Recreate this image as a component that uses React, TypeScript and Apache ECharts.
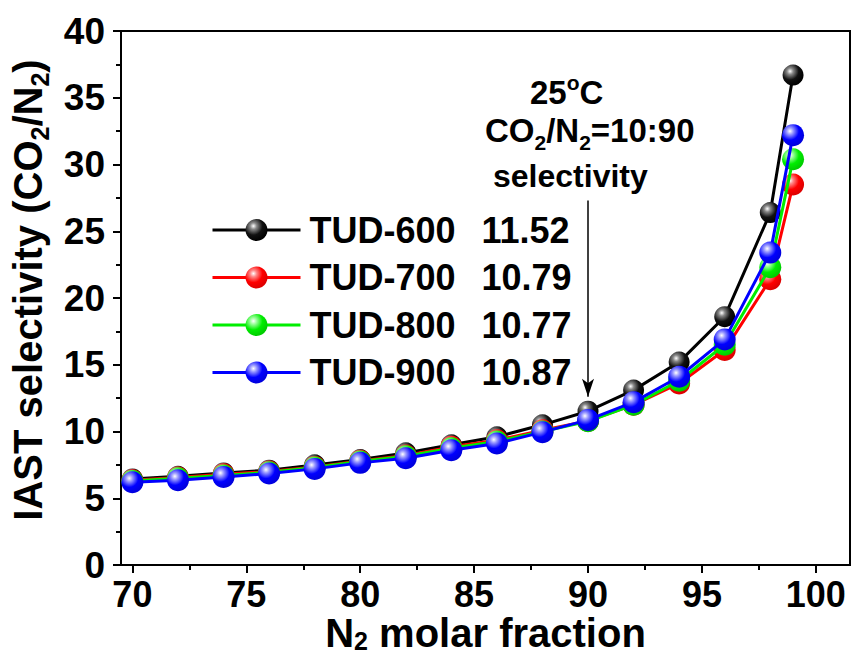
import React, { useEffect, useRef } from "react";
import * as echarts from "echarts";

const xValues = [70, 72, 74, 76, 78, 80, 82, 84, 86, 88, 90, 92, 94, 96, 98, 99];
const tud600 = [6.45, 6.65, 6.9, 7.1, 7.5, 7.9, 8.4, 9.0, 9.6, 10.5, 11.52, 13.1, 15.2, 18.6, 26.4, 36.7];
const tud700 = [6.35, 6.55, 6.8, 7.0, 7.35, 7.8, 8.2, 8.85, 9.35, 10.1, 10.79, 12.0, 13.6, 16.1, 21.4, 28.5];
const tud800 = [6.3, 6.5, 6.7, 6.95, 7.3, 7.75, 8.15, 8.75, 9.25, 10.0, 10.77, 12.0, 13.8, 16.5, 22.3, 30.4];
const tud900 = [6.2, 6.35, 6.6, 6.85, 7.2, 7.65, 8.0, 8.6, 9.1, 9.95, 10.87, 12.2, 14.1, 16.9, 23.4, 32.2];
const seriesNames = ["TUD-600", "TUD-700", "TUD-800", "TUD-900"];
const selectivity = ["11.52", "10.79", "10.77", "10.87"];
const xTickValues = [70, 75, 80, 85, 90, 95, 100];
const xMinorTickValues = [72.5, 77.5, 82.5, 87.5, 92.5, 97.5];

const FONT = "'Liberation Sans', Arial, sans-serif";

function ball(base: string, light: string, dark: string) {
  return new echarts.graphic.RadialGradient(0.36, 0.32, 0.68, [
    { offset: 0, color: "#ffffff" },
    { offset: 0.22, color: light },
    { offset: 0.6, color: base },
    { offset: 1, color: dark },
  ]);
}

export default function App() {
  const ref = useRef<HTMLDivElement>(null);
  useEffect(() => {
    document.body.style.margin = "0";
    const chart = echarts.init(ref.current!, null, { renderer: "svg" });
    const colors = ["#000000", "#ff0000", "#00ee00", "#0000ff"];
    const balls = [
      ball("#111111", "#888888", "#000000"),
      ball("#ff0000", "#ff8888", "#dd0000"),
      ball("#00ee00", "#99ff99", "#00cc00"),
      ball("#0000ff", "#9999ff", "#0000dd"),
    ];
    const datas = [tud600, tud700, tud800, tud900];
    const series: any[] = datas.map((d, i) => ({
      name: seriesNames[i],
      type: "line",
      data: xValues.map((x, j) => [x, d[j]]),
      symbol: "circle",
      symbolSize: i === 0 ? 21 : 22,
      lineStyle: { color: colors[i], width: 3 },
      itemStyle: { color: balls[i], borderWidth: 0 },
      z: 2 + i,
    }));
    series[0].markLine = {
      silent: true,
      symbol: ["none", "arrow"],
      symbolSize: [9, 18],
      lineStyle: { color: "#000", width: 1.5, type: "solid" },
      label: { show: false },
      data: [[{ coord: [90, 27.3] }, { coord: [90, 12.6] }]],
    };
    const option: any = {
      animation: false,
      backgroundColor: "#fff",
      grid: {
        left: 121,
        right: 1,
        top: 31,
        bottom: 94,
        show: true,
        borderColor: "#000",
        borderWidth: 2,
        outerBoundsMode: "none",
        containLabel: false,
      },
      legend: {
        orient: "vertical",
        left: 211,
        top: 212,
        padding: 0,
        itemWidth: 88,
        itemHeight: 27.5,
        itemGap: 11.5,
        selectedMode: false,
        data: seriesNames,
        lineStyle: { width: 3 },
        formatter: (name: string) => `{a|${name}}{b|${selectivity[seriesNames.indexOf(name)]}}`,
        textStyle: {
          fontFamily: FONT,
          fontWeight: "bold",
          fontSize: 36,
          color: "#000",
          lineHeight: 36,
          padding: [0, 0, 0, 4],
          rich: {
            a: { fontFamily: FONT, fontWeight: "bold", fontSize: 36, width: 172, lineHeight: 36 },
            b: { fontFamily: FONT, fontWeight: "bold", fontSize: 36, lineHeight: 36 },
          },
        },
      },
      xAxis: [
        {
          type: "value",
          position: "bottom",
          min: 69.5,
          max: 101.5,
          name: "{n|N}{s|2}{n| molar fraction}",
          nameLocation: "middle",
          nameGap: 48,
          nameMoveOverlap: false,
          nameTextStyle: {
            rich: {
              n: { fontFamily: FONT, fontWeight: "bold", fontSize: 40, color: "#000", lineHeight: 40 },
              s: { fontFamily: FONT, fontWeight: "bold", fontSize: 25, color: "#000", lineHeight: 20, verticalAlign: "bottom" },
            },
          },
          splitLine: { show: false },
          axisLine: { show: true, onZero: false, lineStyle: { color: "#000", width: 2 } },
          axisTick: { show: true, inside: false, length: 8, lineStyle: { width: 2, color: "#000" }, customValues: xTickValues },
          axisLabel: {
            margin: 12,
            fontFamily: FONT,
            fontWeight: "bold",
            fontSize: 36,
            lineHeight: 34,
            color: "#000",
            customValues: xTickValues,
          },
        },
        {
          type: "value",
          position: "bottom",
          min: 69.5,
          max: 101.5,
          splitLine: { show: false },
          axisLine: { show: false, onZero: false },
          axisTick: { show: true, inside: false, length: 5, lineStyle: { width: 2, color: "#000" }, customValues: xMinorTickValues },
          axisLabel: { show: false },
        },
      ],
      yAxis: {
        type: "value",
        min: 0,
        max: 40,
        interval: 5,
        name: "{n|IAST selectivity (CO}{s|2}{n|/N}{s|2}{n|)}",
        nameLocation: "middle",
        nameGap: 65,
        nameRotate: 90,
        nameTextStyle: {
          padding: [0, 0, 0, 16],
          rich: {
            n: { fontFamily: FONT, fontWeight: "bold", fontSize: 40, color: "#000", lineHeight: 50 },
            s: { fontFamily: FONT, fontWeight: "bold", fontSize: 25, color: "#000", lineHeight: 25, verticalAlign: "bottom" },
          },
        },
        splitLine: { show: false },
        axisLine: { show: true, lineStyle: { color: "#000", width: 2 } },
        axisTick: { show: true, inside: false, length: 8, lineStyle: { width: 2, color: "#000" } },
        minorTick: { show: true, splitNumber: 2, length: 5, lineStyle: { width: 2, color: "#000" } },
        axisLabel: { margin: 16, fontFamily: FONT, fontWeight: "bold", fontSize: 37, color: "#000" },
      },
      graphic: [
        {
          type: "text",
          left: 575 - 45,
          top: 93 - 21,
          style: {
            text: "{n|25}{p|o}{n|C}",
            rich: {
              n: { fontFamily: FONT, fontWeight: "bold", fontSize: 33, fill: "#000", lineHeight: 40 },
              p: { fontFamily: FONT, fontWeight: "bold", fontSize: 21, fill: "#000", lineHeight: 21, verticalAlign: "top" },
            },
          },
        },
        {
          type: "text",
          left: 485,
          top: 135 - 21,
          style: {
            text: "{n|CO}{s|2}{n|/N}{s|2}{n|=10:90}",
            rich: {
              n: { fontFamily: FONT, fontWeight: "bold", fontSize: 33, fill: "#000", lineHeight: 44 },
              s: { fontFamily: FONT, fontWeight: "bold", fontSize: 21, fill: "#000", lineHeight: 21, verticalAlign: "bottom" },
            },
          },
        },
        {
          type: "text",
          left: 493,
          top: 177 - 17,
          style: {
            text: "selectivity",
            fontFamily: FONT,
            fontWeight: "bold",
            fontSize: 32,
            fill: "#000",
          },
        },
      ],
      series,
    };
    chart.setOption(option);
    return () => chart.dispose();
  }, []);
  return <div ref={ref} style={{ width: 851, height: 659 }} />;
}
